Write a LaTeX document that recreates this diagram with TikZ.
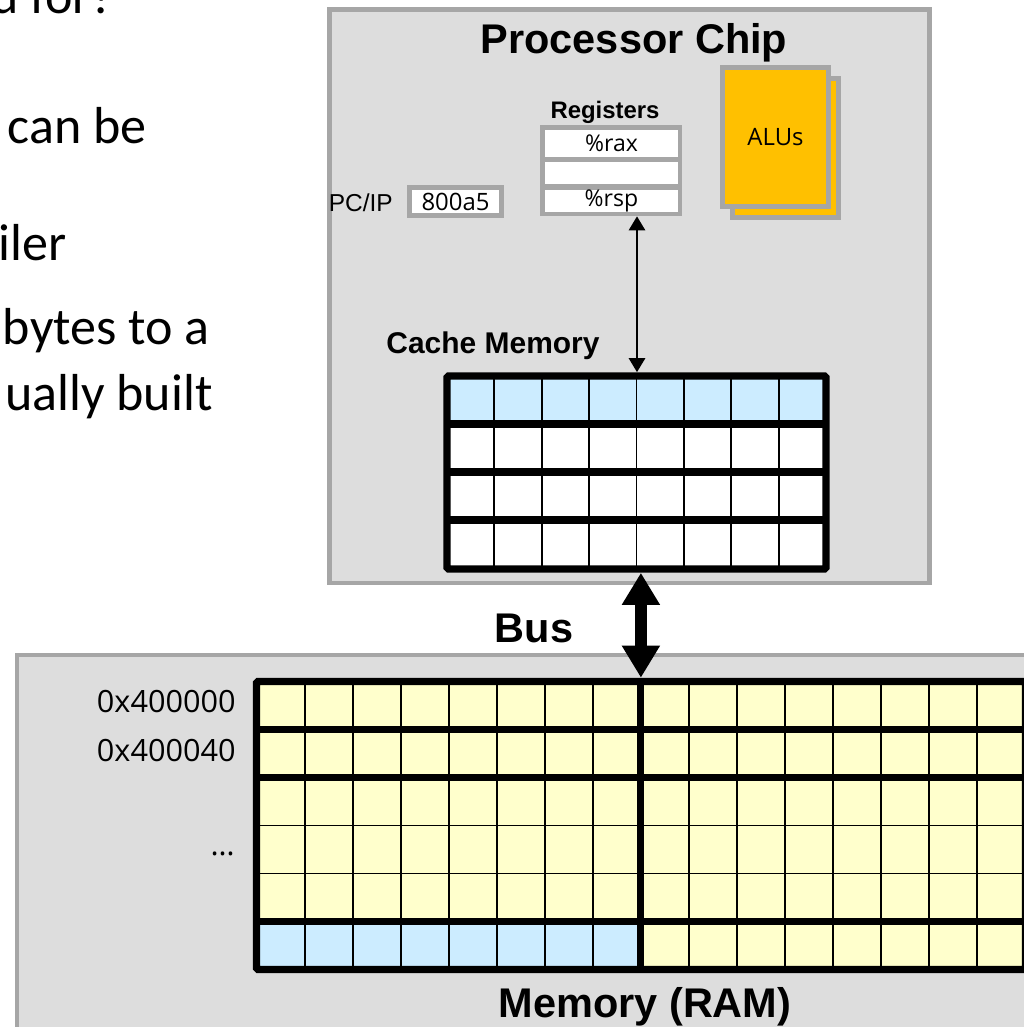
\documentclass[tikz,border=0pt]{standalone}
\usepackage{fontspec}
\setmainfont{Carlito}
\newfontfamily\headfont{Liberation Sans}
\newfontfamily\cellfont{Open Sans}
\usepackage{tikz}
\usetikzlibrary{arrows.meta,fit}
\definecolor{chipgray}{HTML}{DDDDDD}
\definecolor{edgegray}{HTML}{A6A6A6}
\definecolor{lineblue}{HTML}{CCECFF}
\definecolor{ramyellow}{HTML}{FFFFCC}
\definecolor{aluorange}{HTML}{FFC000}
\tikzset{
	box/.style={draw=edgegray, fill=chipgray, line width=3.5pt},
	bigtitle/.style={font=\headfont\bfseries\fontsize{29.5}{34}\selectfont, anchor=base, inner sep=0},
	midtitle/.style={font=\headfont\bfseries\fontsize{21.3}{25}\selectfont, anchor=base, inner sep=0},
	smalltitle/.style={font=\headfont\bfseries\fontsize{17}{20}\selectfont, anchor=base, inner sep=0},
	pclabel/.style={font=\headfont\fontsize{17.4}{20}\selectfont, anchor=base east, inner sep=0},
	slidetext/.style={font=\fontsize{37}{44}\selectfont, anchor=base east, inner sep=0},
	addrtext/.style={font=\cellfont\fontsize{21.8}{26}\selectfont, anchor=base east, inner sep=0},
	regframe/.style={fill=edgegray, minimum width=3.55cm, minimum height=2.275cm, inner sep=0},
	regcell/.style={fill=white, minimum width=3.325cm, minimum height=0.55cm, inner sep=0, font=\cellfont\fontsize{16.4}{19}\selectfont},
	pcbox/.style={draw=edgegray, fill=white, line width=3.5pt, minimum width=2.3cm, minimum height=0.7cm, inner sep=0, font=\cellfont\fontsize{17}{20}\selectfont},
	alubox/.style={draw=edgegray, fill=aluorange, line width=3.5pt, minimum width=2.65cm, minimum height=3.475cm, inner sep=0, font=\cellfont\fontsize{17}{20}\selectfont},
	thinrule/.style={line width=1.4pt},
	thickrule/.style={line width=5pt},
	busarrow/.style={{Triangle[length=22.8pt, width=25.6pt]}-{Triangle[length=22.8pt, width=25.6pt]}, line width=8.5pt},
	regarrow/.style={{Triangle[length=10pt, width=11.4pt]}-{Triangle[length=10pt, width=11.4pt]}, line width=2pt}
}

\begin{document}
\begin{tikzpicture}[x=0.025cm, y=-0.025cm]
	%%%%% START %%%%%
	\useasboundingbox (0, 0) rectangle (1024, 1027);
	\clip (0, 0) rectangle (1024, 1027);
	
	% slide text cut off at the left
	\node[slidetext] (txta) at (115, 13) {d for?};
	\node[slidetext] (txtb) at (147, 143) {y can be};
	\node[slidetext] (txtc) at (67, 260) {iler};
	\node[slidetext] (txtd) at (210, 344) {bytes to a};
	\node[slidetext] (txte) at (213, 410) {ually built};
	
	% chip and memory
	\draw[box] (329.5, 9.5) rectangle (929.5, 583);
	\draw[box] (17, 655) rectangle (1060, 1060);
	
	\node[bigtitle] (chiptitle) at (634, 53) {Processor Chip};
	\node[bigtitle] (bustitle) at (534, 642) {Bus};
	\node[bigtitle] (ramtitle) at (645, 1017) {Memory (RAM)};
	\node[midtitle] (cachetitle) at (493, 353) {Cache Memory};
	\node[smalltitle] (regtitle) at (605, 118) {Registers};
	
	% registers
	\node[regframe] (regs) at (611, 170.5) {};
	\node[regcell, minimum height=0.675cm] (rax) at (611.5, 143.5) {\%rax};
	\node[regcell] (rmid) at (611.5, 173) {};
	\node[regcell] (rsp) at (611.5, 201) {\%rsp};
	
	\node[pcbox] (pc) at (455.5, 201.5) {800a5};
	\node[pclabel] (pcname) at (393, 211) {PC/IP};
	
	% ALUs
	\node[alubox] (aluback) at (785.5, 148) {};
	\node[alubox] (alu) at (775.5, 137) {ALUs};
	
	% cache grid
	\fill[lineblue] (447, 376) rectangle (826, 424);
	\fill[white] (447, 424) rectangle (826, 569);
	\foreach \x in {1,...,7}
		\draw[thinrule] ({447+47.375*\x}, 376) -- ({447+47.375*\x}, 569);
	\foreach \y in {424, 472, 520}
		\draw[thickrule] (447, \y) -- (826, \y);
	\draw[thickrule, rounded corners=1pt] (447, 376) rectangle (826, 569);
	\node[fit={(447, 376) (826, 569)}, inner sep=2.5pt] (cache) {};
	\coordinate (tap) at (637, 376);
	
	% memory grid
	\fill[ramyellow] (256.5, 681.5) rectangle (1025.3, 969.5);
	\fill[lineblue] (256.5, 921.5) rectangle (640.9, 969.5);
	\foreach \x in {1,...,15}
		\draw[thinrule] ({256.5+48.05*\x}, 681.5) -- ({256.5+48.05*\x}, 969.5);
	\foreach \y in {825.5, 873.5}
		\draw[thinrule] (256.5, \y) -- (1025.3, \y);
	\foreach \y in {729.5, 777.5, 921.5}
		\draw[thickrule] (256.5, \y) -- (1025.3, \y);
	\draw[thickrule] (640.9, 681.5) -- (640.9, 969.5);
	\draw[thickrule, rounded corners=1pt] (256.5, 681.5) rectangle (1025.3, 969.5);
	\node[fit={(256.5, 681.5) (1025.3, 969.5)}, inner sep=2.5pt] (ram) {};
	
	\node[addrtext] (addra) at (236, 712) {0x400000};
	\node[addrtext] (addrb) at (236, 761) {0x400040};
	\node[addrtext] (addrc) at (235, 855) {…};
	
	% connections
	\draw[regarrow] (tap |- regs.south) -- (tap |- cache.north);
	\draw[busarrow] (cache.south -| ram.north) -- (ram.north);
	
	%%%%% END %%%%%
\end{tikzpicture}
\end{document}
